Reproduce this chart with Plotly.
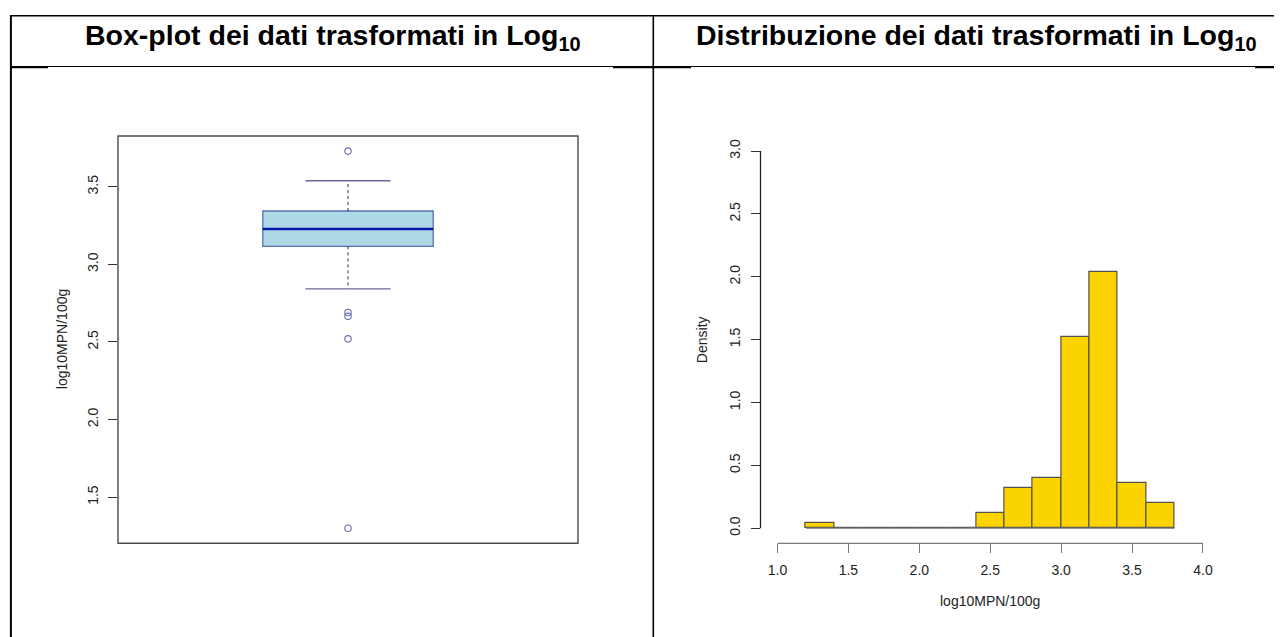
import plotly.graph_objects as go

W, H = 1282, 637
OFF = 8  # default page margin of the html body

# ---------------- data ----------------
header_left = "Box-plot dei dati trasformati in Log<sub>10</sub>"
header_right = "Distribuzione dei dati trasformati in Log<sub>10</sub>"
var_label = "log10MPN/100g"
density_label = "Density"

box_q1 = 3.116
box_median = 3.228
box_q3 = 3.344
box_whisker_low = 2.842
box_whisker_high = 3.539
box_outliers = [3.73, 2.69, 2.665, 2.52, 1.30]
box_yticks = [1.5, 2.0, 2.5, 3.0, 3.5]

hist_breaks = [1.2, 1.4, 1.6, 1.8, 2.0, 2.2, 2.4, 2.6, 2.8, 3.0, 3.2, 3.4, 3.6, 3.8]
hist_counts = [1, 0, 0, 0, 0, 0, 3, 8, 10, 38, 51, 9, 5]
hist_xticks = [1.0, 1.5, 2.0, 2.5, 3.0, 3.5, 4.0]
hist_yticks = [0.0, 0.5, 1.0, 1.5, 2.0, 2.5, 3.0]
hist_xlim = [1.0, 4.0]
hist_ylim = [0.0, 3.0]

# ---------------- helpers ----------------
def px(x):
    return (x - OFF) / W

def py(y):
    return 1 - (y - OFF) / H

def r_ext(lo, hi, f=0.04):
    d = (hi - lo) * f
    return [lo - d, hi + d]

FONT = "Liberation Sans, Arial, Helvetica, sans-serif"
TXT = "#222222"

hist_n = sum(hist_counts)
hist_widths = [b - a for a, b in zip(hist_breaks[:-1], hist_breaks[1:])]
hist_centers = [(a + b) / 2 for a, b in zip(hist_breaks[:-1], hist_breaks[1:])]
hist_density = [c / (hist_n * w) for c, w in zip(hist_counts, hist_widths)]

box_pos = 1.0
box_all = box_outliers + [box_whisker_low, box_whisker_high]
box_yrange = r_ext(min(box_all), max(box_all))
box_xrange = r_ext(box_pos - 0.5, box_pos + 0.5)

fig = go.Figure()

# ---------------- box plot ----------------
fig.add_trace(go.Box(
    x=[box_pos], q1=[box_q1], median=[box_median], q3=[box_q3],
    lowerfence=[box_q1], upperfence=[box_q3],
    width=0.4, whiskerwidth=0, boxpoints=False,
    fillcolor="#add8e6", line=dict(color="#5b6db3", width=1.3),
    xaxis="x", yaxis="y", showlegend=False, hoverinfo="skip",
))
# dashed whiskers
fig.add_trace(go.Scatter(
    x=[box_pos, box_pos, None, box_pos, box_pos],
    y=[box_q3, box_whisker_high, None, box_q1, box_whisker_low],
    mode="lines", line=dict(color="#2a2a5a", width=1, dash="3px,3px"),
    xaxis="x", yaxis="y", showlegend=False, hoverinfo="skip",
))
# staples
fig.add_trace(go.Scatter(
    x=[box_pos - 0.1, box_pos + 0.1, None, box_pos - 0.1, box_pos + 0.1],
    y=[box_whisker_high, box_whisker_high, None, box_whisker_low, box_whisker_low],
    mode="lines", line=dict(color="#6a6a9a", width=1.3),
    xaxis="x", yaxis="y", showlegend=False, hoverinfo="skip",
))
# median
fig.add_trace(go.Scatter(
    x=[box_pos - 0.2, box_pos + 0.2], y=[box_median, box_median],
    mode="lines", line=dict(color="#0a14a8", width=2.6),
    xaxis="x", yaxis="y", showlegend=False, hoverinfo="skip",
))
# outliers
fig.add_trace(go.Scatter(
    x=[box_pos] * len(box_outliers), y=box_outliers, mode="markers",
    marker=dict(symbol="circle-open", size=6.5, color="#6e6eb4", line=dict(width=1.1)),
    xaxis="x", yaxis="y", showlegend=False, hoverinfo="skip",
))

# ---------------- histogram ----------------
fig.add_trace(go.Scatter(
    x=[hist_breaks[0], hist_breaks[-1]], y=[0, 0], mode="lines",
    line=dict(color="#707070", width=1.2),
    xaxis="x2", yaxis="y2", showlegend=False, hoverinfo="skip",
))
fig.add_trace(go.Bar(
    x=hist_centers, y=hist_density, width=hist_widths,
    marker=dict(color="#fbd400", line=dict(color="#55524a", width=1.2)),
    xaxis="x2", yaxis="y2", showlegend=False, hoverinfo="skip",
))

plot_top, plot_bot = 136, 543.3

fig.update_layout(
    width=W, height=H,
    margin=dict(l=0, r=0, t=0, b=0),
    paper_bgcolor="white", plot_bgcolor="white",
    font=dict(family=FONT, color=TXT, size=14),
    bargap=0,
    xaxis=dict(domain=[px(118), px(578)], range=box_xrange, showticklabels=False,
               ticks="", showgrid=False, zeroline=False, showline=False, fixedrange=True),
    yaxis=dict(domain=[py(plot_bot), py(plot_top)], range=box_yrange,
               tickvals=box_yticks, ticktext=[f"{v:.1f}" for v in box_yticks],
               ticks="outside", ticklen=9, tickwidth=1, tickcolor="#333333",
               tickangle=-90, ticklabelstandoff=4,
               tickfont=dict(size=14, color=TXT, family=FONT),
               showgrid=False, zeroline=False, showline=False, fixedrange=True),
    xaxis2=dict(domain=[px(760.5), px(1220)], range=r_ext(*hist_xlim), anchor="y2",
                tickvals=hist_xticks, ticktext=[f"{v:.1f}" for v in hist_xticks],
                ticks="outside", ticklen=9, tickwidth=1, tickcolor="#777777",
                ticklabelstandoff=5,
                tickfont=dict(size=14, color=TXT, family=FONT),
                showgrid=False, zeroline=False, showline=False, fixedrange=True),
    yaxis2=dict(domain=[py(plot_bot), py(plot_top)], range=r_ext(*hist_ylim), anchor="x2",
                tickvals=hist_yticks, ticktext=[f"{v:.1f}" for v in hist_yticks],
                ticks="outside", ticklen=9, tickwidth=1, tickcolor="#333333",
                tickangle=-90, ticklabelstandoff=5,
                tickfont=dict(size=14, color=TXT, family=FONT),
                showgrid=False, zeroline=False, showline=False, fixedrange=True),
)

shapes = []
# box plot frame
shapes.append(dict(type="rect", xref="x domain", yref="y domain", x0=0, x1=1, y0=0, y1=1,
                   line=dict(color="#4a4a4a", width=1.4), layer="above"))
# histogram axis lines (span of ticks, R style)
shapes.append(dict(type="line", xref="x2", yref="y2 domain",
                   x0=min(hist_xticks), x1=max(hist_xticks), y0=0, y1=0,
                   line=dict(color="#777777", width=1.3)))
shapes.append(dict(type="line", xref="x2 domain", yref="y2",
                   x0=0, x1=0, y0=min(hist_yticks), y1=max(hist_yticks),
                   line=dict(color="#222222", width=1.3)))

# table borders (paper coords)
def hline(y, x0, x1, w):
    return dict(type="line", xref="paper", yref="paper", x0=px(x0), x1=px(x1),
                y0=py(y), y1=py(y), line=dict(color="black", width=w))

def vline(x, y0, y1, w):
    return dict(type="line", xref="paper", yref="paper", x0=px(x), x1=px(x),
                y0=py(y0), y1=py(y1), line=dict(color="black", width=w))

shapes += [
    hline(15.7, 10, 1290, 1.6),
    vline(10.9, 15, 645, 2),
    vline(653.3, 15, 645, 1.6),
    hline(66.5, 10, 1290, 1),
    hline(67.2, 11, 48, 2),
    hline(67.2, 613, 691, 2),
    hline(67.2, 1255, 1290, 2),
]
fig.update_layout(shapes=shapes)

ann = []
ann.append(dict(text=header_left, x=px(333), y=py(37), xref="paper", yref="paper",
                xanchor="center", yanchor="middle", showarrow=False,
                font=dict(family=FONT, size=28.5, color="black", weight="bold")))
ann.append(dict(text=header_right, x=px(976), y=py(37), xref="paper", yref="paper",
                xanchor="center", yanchor="middle", showarrow=False,
                font=dict(family=FONT, size=28.5, color="black", weight="bold")))
ann.append(dict(text=var_label, x=px(61.5), y=py((plot_top + plot_bot) / 2), xref="paper", yref="paper",
                textangle=-90, xanchor="center", yanchor="middle", showarrow=False,
                font=dict(family=FONT, size=14, color=TXT)))
ann.append(dict(text=density_label, x=px(701.5), y=py((plot_top + plot_bot) / 2), xref="paper", yref="paper",
                textangle=-90, xanchor="center", yanchor="middle", showarrow=False,
                font=dict(family=FONT, size=14, color=TXT)))
ann.append(dict(text=var_label, x=px(990), y=py(601), xref="paper", yref="paper",
                xanchor="center", yanchor="middle", showarrow=False,
                font=dict(family=FONT, size=14, color=TXT)))
fig.update_layout(annotations=ann)

fig.write_html("out.html")
